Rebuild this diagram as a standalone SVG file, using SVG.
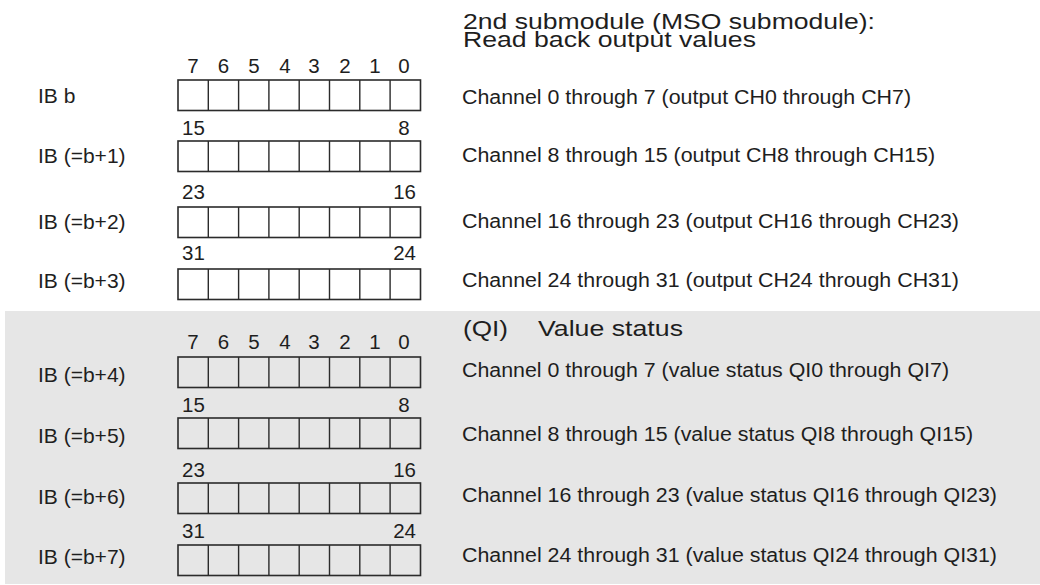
<svg xmlns="http://www.w3.org/2000/svg" width="1040" height="585" viewBox="0 0 1040 585">
<style>
text{font-family:"Liberation Sans",Arial,sans-serif;fill:#1e1e1e}
.lbl{font-size:21px}
.bit{font-size:20.5px}
.ch{font-size:19.5px}
.ttl{font-size:21.5px}
.box{fill:none;stroke:#2b2b2b;stroke-width:1.6}
.div{stroke:#2b2b2b;stroke-width:1.4}
</style>
<defs>
<g id="byte">
<rect class="box" x="0" y="0" width="242.5" height="30.5"/>
<path class="div" d="M30.3 0V30.5M60.6 0V30.5M90.9 0V30.5M121.2 0V30.5M151.5 0V30.5M181.8 0V30.5M212.1 0V30.5"/>
</g>
</defs>
<rect id="status-bg" x="5" y="311" width="1035" height="273" fill="#e6e6e6"/>
<g id="title">
<text class="ttl" x="463" y="29" textLength="412" lengthAdjust="spacingAndGlyphs">2nd submodule (MSO submodule):</text>
<text class="ttl" x="463" y="46.5" textLength="293" lengthAdjust="spacingAndGlyphs">Read back output values</text>
</g>
<g id="qi-title">
<text class="ttl" x="463" y="336" textLength="45" lengthAdjust="spacingAndGlyphs">(QI)</text>
<text class="ttl" x="538" y="336" textLength="145" lengthAdjust="spacingAndGlyphs">Value status</text>
</g>
<g id="bits-top-upper" text-anchor="middle">
<text class="bit" x="193" y="73">7</text><text class="bit" x="223.5" y="73">6</text><text class="bit" x="254" y="73">5</text><text class="bit" x="285" y="73">4</text><text class="bit" x="314" y="73">3</text><text class="bit" x="345" y="73">2</text><text class="bit" x="375" y="73">1</text><text class="bit" x="404" y="73">0</text>
</g>
<g id="ib0"><text class="lbl" x="38" y="103">IB b</text><use href="#byte" x="178" y="80"/><text class="ch" x="462" y="104" textLength="449" lengthAdjust="spacingAndGlyphs">Channel 0 through 7 (output CH0 through CH7)</text></g>
<g id="ib1"><text class="bit" x="182" y="135">15</text><text class="bit" x="404" y="135" text-anchor="middle">8</text><text class="lbl" x="38" y="163">IB (=b+1)</text><use href="#byte" x="178" y="141"/><text class="ch" x="462" y="162" textLength="473" lengthAdjust="spacingAndGlyphs">Channel 8 through 15 (output CH8 through CH15)</text></g>
<g id="ib2"><text class="bit" x="182" y="199">23</text><text class="bit" x="416" y="199" text-anchor="end">16</text><text class="lbl" x="38" y="229">IB (=b+2)</text><use href="#byte" x="178" y="207"/><text class="ch" x="462" y="228" textLength="497" lengthAdjust="spacingAndGlyphs">Channel 16 through 23 (output CH16 through CH23)</text></g>
<g id="ib3"><text class="bit" x="182" y="260">31</text><text class="bit" x="416" y="260" text-anchor="end">24</text><text class="lbl" x="38" y="288">IB (=b+3)</text><use href="#byte" x="178" y="269"/><text class="ch" x="462" y="287" textLength="497" lengthAdjust="spacingAndGlyphs">Channel 24 through 31 (output CH24 through CH31)</text></g>
<g id="bits-top-lower" text-anchor="middle">
<text class="bit" x="193" y="349">7</text><text class="bit" x="223.5" y="349">6</text><text class="bit" x="254" y="349">5</text><text class="bit" x="285" y="349">4</text><text class="bit" x="314" y="349">3</text><text class="bit" x="345" y="349">2</text><text class="bit" x="375" y="349">1</text><text class="bit" x="404" y="349">0</text>
</g>
<g id="ib4"><text class="lbl" x="38" y="382">IB (=b+4)</text><use href="#byte" x="178" y="357"/><text class="ch" x="462" y="377" textLength="487" lengthAdjust="spacingAndGlyphs">Channel 0 through 7 (value status QI0 through QI7)</text></g>
<g id="ib5"><text class="bit" x="182" y="411.5">15</text><text class="bit" x="404" y="411.5" text-anchor="middle">8</text><text class="lbl" x="38" y="443">IB (=b+5)</text><use href="#byte" x="178" y="418"/><text class="ch" x="462" y="441" textLength="511" lengthAdjust="spacingAndGlyphs">Channel 8 through 15 (value status QI8 through QI15)</text></g>
<g id="ib6"><text class="bit" x="182" y="476.5">23</text><text class="bit" x="416" y="476.5" text-anchor="end">16</text><text class="lbl" x="38" y="504">IB (=b+6)</text><use href="#byte" x="178" y="483"/><text class="ch" x="462" y="502" textLength="535" lengthAdjust="spacingAndGlyphs">Channel 16 through 23 (value status QI16 through QI23)</text></g>
<g id="ib7"><text class="bit" x="182" y="538">31</text><text class="bit" x="416" y="538" text-anchor="end">24</text><text class="lbl" x="38" y="564">IB (=b+7)</text><use href="#byte" x="178" y="545"/><text class="ch" x="462" y="562" textLength="535" lengthAdjust="spacingAndGlyphs">Channel 24 through 31 (value status QI24 through QI31)</text></g>
<g id="connectors"/>
</svg>
